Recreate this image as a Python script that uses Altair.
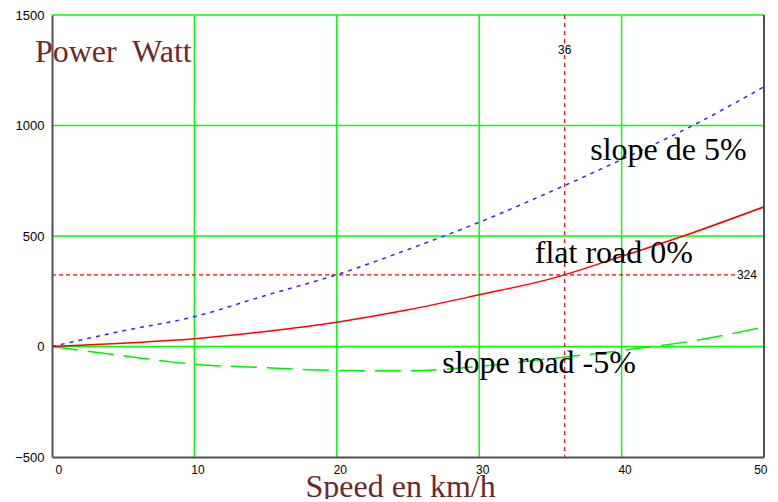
import altair as alt
import pandas as pd

# ---- data ----
speed = [0, 5, 10, 15, 20, 25, 30, 35, 40, 45, 50]
flat_road = [0, 15, 35, 68, 110, 166, 234, 306, 408, 515, 632]
slope_up = [0, 71, 135, 231, 325, 439, 562, 700, 846, 1000, 1175]
slope_down = [0, -42, -80, -96, -108, -110, -90, -55, -18, 25, 88]

x_ticks = [0, 10, 20, 30, 40, 50]
y_ticks = [-500, 0, 500, 1000, 1500]
grid_x = [10, 20, 30, 40]
grid_y = [0, 500, 1000, 1500]
border_x = [50]

ref_speed = 36
ref_power = 324
ref_h_end = 48.0

W, H = 712, 442
xs = alt.Scale(domain=[0, 50], nice=False, zero=False)
ys = alt.Scale(domain=[-500, 1500], nice=False, zero=False)

axis_style = dict(domain=True, domainColor="#505050", domainWidth=2, grid=False,
                  ticks=False, labelFont="Liberation Sans",
                  labelColor="#000000", zindex=1, format="d")

base_x = alt.X("x:Q", scale=xs, axis=alt.Axis(values=x_ticks, title="", labelFontSize=12,
                                              labelPadding=7, labelOffset=3, **axis_style))
base_y = alt.Y("y:Q", scale=ys, axis=alt.Axis(values=y_ticks, title="", labelFontSize=13,
                                              labelPadding=8, **axis_style))

gv = alt.Chart(pd.DataFrame({"x": grid_x})).mark_rule(color="#00ff00", strokeWidth=1.5).encode(x=alt.X("x:Q", scale=xs))
gh = alt.Chart(pd.DataFrame({"y": grid_y})).mark_rule(color="#00ff00", strokeWidth=1.5).encode(y=alt.Y("y:Q", scale=ys))
rb = alt.Chart(pd.DataFrame({"x": border_x})).mark_rule(color="#505050", strokeWidth=2).encode(x=alt.X("x:Q", scale=xs))

def curve(vals, color, dash, width=1.5):
    df = pd.DataFrame({"x": speed, "y": vals})
    kw = dict(color=color, strokeWidth=width, interpolate="monotone", clip=True)
    if dash:
        kw["strokeDash"] = dash
    return alt.Chart(df).mark_line(**kw).encode(x=base_x, y=base_y)

c_down = curve(slope_down, "#00ee00", [26, 10])
c_flat = curve(flat_road, "#ff0000", None)
c_up = curve(slope_up, "#2a2aff", [4, 5])

vref = alt.Chart(pd.DataFrame({"x": [ref_speed]})).mark_rule(
    color="#ff0000", strokeWidth=1.2, strokeDash=[4, 4]).encode(x=alt.X("x:Q", scale=xs))
href = alt.Chart(pd.DataFrame({"x": [0], "x2": [ref_h_end], "y": [ref_power]})).mark_rule(
    color="#ff0000", strokeWidth=1.2, strokeDash=[4, 3]).encode(
    x=alt.X("x:Q", scale=xs), x2="x2:Q", y=alt.Y("y:Q", scale=ys))

lab36_df = pd.DataFrame({"x": [ref_speed], "y": [1340], "t": [str(ref_speed)]})
lab36_bg = alt.Chart(lab36_df).mark_text(
    font="Liberation Sans", fontSize=12, color="#000000", stroke="white", strokeWidth=3,
    align="center", baseline="middle").encode(x=alt.X("x:Q", scale=xs), y=alt.Y("y:Q", scale=ys), text="t:N")
lab36 = alt.Chart(lab36_df).mark_text(
    font="Liberation Sans", fontSize=12, color="#000000",
    align="center", baseline="middle").encode(x=alt.X("x:Q", scale=xs), y=alt.Y("y:Q", scale=ys), text="t:N")
lab324 = alt.Chart(pd.DataFrame({"x": [48.1], "y": [ref_power], "t": [str(ref_power)]})).mark_text(
    font="Liberation Sans", fontSize=12, color="#000000",
    align="left", baseline="middle").encode(x=alt.X("x:Q", scale=xs), y=alt.Y("y:Q", scale=ys), text="t:N")

ann_text = ["slope de 5%", "flat road 0%", "slope road -5%"]
ann_x = [37.8, 33.9, 27.4]
ann_y = [846, 376, -118]
ann = alt.Chart(pd.DataFrame({"x": ann_x, "y": ann_y, "t": ann_text})).mark_text(
    font="Liberation Serif", fontSize=32, color="#000000", align="left", baseline="alphabetic").encode(
    x=alt.X("x:Q", scale=xs), y=alt.Y("y:Q", scale=ys), text="t:N")

titles_text = ["Power\u00a0 Watt", "Speed en km/h"]
titles_x = [-1.2, 17.8]
titles_y = [1289, -681]
titles = alt.Chart(pd.DataFrame({"x": titles_x, "y": titles_y, "t": titles_text})).mark_text(
    font="Liberation Serif", fontSize=32, color="#6a2a2a", align="left", baseline="alphabetic").encode(
    x=alt.X("x:Q", scale=xs), y=alt.Y("y:Q", scale=ys), text="t:N")

chart = alt.layer(
    gv, gh, rb, vref, href, c_down, c_flat, c_up, lab36_bg, lab36, lab324, ann, titles
).properties(
    width=W, height=H,
    autosize=alt.AutoSizeParams(type="none"),
    padding={"left": 44, "top": 7, "right": 6, "bottom": 42},
).configure_view(stroke="transparent")

chart.save("out.html", embed_options={"renderer": "svg", "actions": False})
